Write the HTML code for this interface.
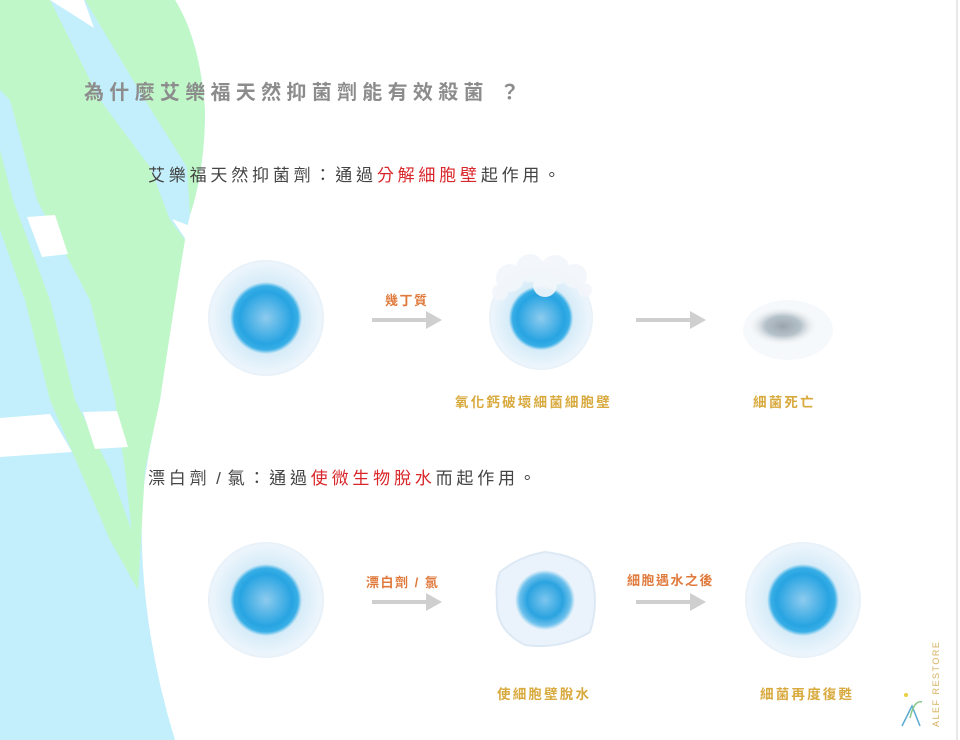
<!DOCTYPE html>
<html><head><meta charset="utf-8"><style>
body{margin:0;width:960px;height:740px;overflow:hidden;background:#fff;position:relative;font-family:"Liberation Sans","Noto Sans CJK TC",sans-serif}
.t{position:absolute;white-space:nowrap}
.title{left:84px;top:76px;font-size:20px;font-weight:bold;color:#8c8c8c;letter-spacing:5.3px}
.sub{left:148px;font-size:17px;color:#444;letter-spacing:3.8px}
.red{color:#d9262a}
.or{font-size:13px;color:#e07a3c;letter-spacing:1.5px;font-weight:bold}
.ye{font-size:13.5px;color:#d8a93c;letter-spacing:2.2px;font-weight:bold}
</style></head><body>
<svg width="960" height="740" style="position:absolute;left:0;top:0">
<defs>
<radialGradient id="c" cx="0.5" cy="0.5" r="0.5">
<stop offset="0" stop-color="#8ecbee"/><stop offset="0.45" stop-color="#27a4e2"/><stop offset="0.55" stop-color="#38aee6"/><stop offset="0.62" stop-color="#d6ecf8"/><stop offset="0.95" stop-color="#edf5fc"/><stop offset="1" stop-color="#e6f0f8"/></radialGradient>
<radialGradient id="k" cx="0.5" cy="0.5" r="0.5">
<stop offset="0" stop-color="#7cc6ee"/><stop offset="0.6" stop-color="#2aa3e0"/><stop offset="0.85" stop-color="#6cc0ec"/><stop offset="1" stop-color="#eaf3fb"/></radialGradient>
<radialGradient id="d" cx="0.5" cy="0.5" r="0.5">
<stop offset="0" stop-color="#9aa4ac"/><stop offset="0.5" stop-color="#b6c2ca"/><stop offset="1" stop-color="#fff" stop-opacity="0"/></radialGradient>
</defs>
<path d="M0 0 L175 0 Q200 40 205 110 Q205 170 190 215 Q175 280 160 400 Q148 450 142 500 Q138 620 175 740 L0 740Z" fill="#c2effb"/>
<path d="M0 0 L50 0 L100 100 L150 167 L170 220 L185 240 Q175 300 160 400 L145 470 L138 590 L125 470 L115 400 L90 300 L37 200 L10 100 L0 90Z" fill="#bff7c8"/>
<path d="M85 0 L175 0 Q200 40 205 110 Q205 170 190 215 L187 167 L145 100Z" fill="#bff7c8"/>
<path d="M0 150 L13 200 L50 300 L75 400 L110 470 L135 540 L138 590 L110 540 L80 470 L50 400 L25 300 L0 230Z" fill="#bff7c8"/>
<polygon points="50,0 84,0 94,28" fill="#fff"/>
<polygon points="27,217 55,215 68,254 42,257" fill="#fff"/>
<polygon points="0,418 50,414 72,452 0,457" fill="#fff"/>
<polygon points="83,412 117,411 128,447 95,449" fill="#fff"/>
<polygon points="172,219 190,226 193,250" fill="#fff"/>
<line x1="957" y1="0" x2="957" y2="740" stroke="#e8e8e8" stroke-width="2"/>
<circle cx="266" cy="318" r="58" fill="url(#c)"/>
<circle cx="541" cy="318" r="52" fill="url(#c)"/>
<g fill="#f3f7fb" opacity="0.92">
<circle cx="510" cy="278" r="14"/><circle cx="530" cy="268" r="14"/><circle cx="555" cy="270" r="15"/><circle cx="575" cy="276" r="12"/><circle cx="545" cy="285" r="12"/><circle cx="500" cy="292" r="8"/><circle cx="585" cy="290" r="7"/>
</g>
<ellipse cx="788" cy="330" rx="45" ry="30" fill="#eef4f9" opacity="0.5"/>
<ellipse cx="783" cy="326" rx="36" ry="20" fill="url(#d)"/>
<circle cx="266" cy="600" r="58" fill="url(#c)"/>
<path d="M500 572 Q520 556 545 552 Q580 556 590 572 Q600 600 590 632 Q560 650 525 645 Q495 630 497 600 Q495 585 500 572Z" fill="#eaf3fb" stroke="#dce9f4" stroke-width="2"/>
<circle cx="545" cy="600" r="30" fill="url(#k)"/>
<circle cx="803" cy="600" r="58" fill="url(#c)"/>
<g fill="#cfcfcf">
<rect x="372" y="318" width="56" height="4"/><polygon points="426,311 442,320 426,329"/>
<rect x="636" y="318" width="56" height="4"/><polygon points="690,311 706,320 690,329"/>
<rect x="372" y="600" width="56" height="4"/><polygon points="426,593 442,602 426,611"/>
<rect x="636" y="600" width="56" height="4"/><polygon points="690,593 706,602 690,611"/>
</g>
<g transform="translate(902,690)" fill="none" stroke-width="1.5">
<path d="M0 36 L10 16 L18 36" stroke="#5aaad0"/>
<path d="M8 28 Q12 10 20 12" stroke="#8ac88a"/>
<circle cx="4" cy="5" r="2" fill="#e8d040" stroke="none"/>
</g>
<text x="0" y="0" transform="translate(939,727) rotate(-90)" font-family="Liberation Sans" font-size="9" fill="#d8b060" letter-spacing="1.5">ALEF RESTORE</text>
</svg>
<div class="t title">為什麼艾樂福天然抑菌劑能有效殺菌 ？</div>
<div class="t sub" style="top:161px">艾樂福天然抑菌劑：通過<span class="red">分解細胞壁</span>起作用。</div>
<div class="t sub" style="top:464px">漂白劑<span style="letter-spacing:1px"> / </span>氯：通過<span class="red">使微生物脫水</span>而起作用。</div>
<div class="t or" style="left:385px;top:290px">幾丁質</div>
<div class="t or" style="left:366px;top:572px">漂白劑 / 氯</div>
<div class="t or" style="left:627px;top:570px">細胞遇水之後</div>
<div class="t ye" style="left:455px;top:391px">氧化鈣破壞細菌細胞壁</div>
<div class="t ye" style="left:753px;top:391px">細菌死亡</div>
<div class="t ye" style="left:497px;top:683px">使細胞壁脫水</div>
<div class="t ye" style="left:760px;top:683px">細菌再度復甦</div>
</body></html>
